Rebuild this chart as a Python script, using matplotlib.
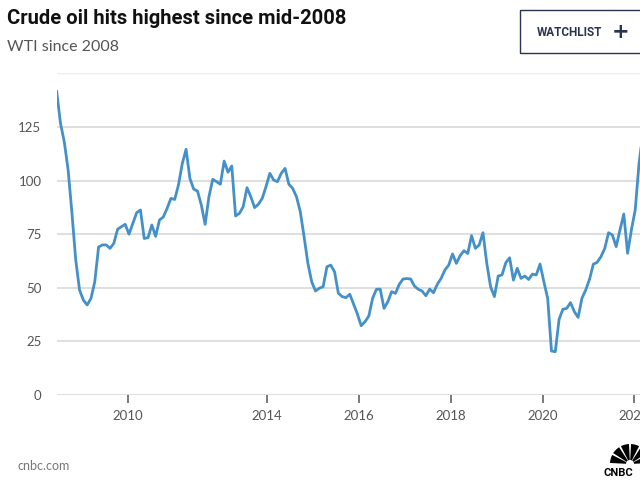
import matplotlib
matplotlib.use("Agg")
import matplotlib.pyplot as plt
from matplotlib.patches import Rectangle, Wedge
import numpy as np

# WTI monthly values, one per point along the x axis
wti = [141.5, 126.7, 118, 105, 85, 63, 49, 44.3, 42, 45, 52.8, 69, 70, 70, 68.4, 70.7,
       77.3, 78.5, 79.6, 75, 80, 85, 86.3, 73, 73.4, 79.3, 74, 81.6, 83, 87, 91.7, 91.2,
       98, 108, 114.6, 101, 96, 95.1, 88.6, 79.6, 92.5, 100.6, 99.5, 98.3, 109.1, 103.9,
       106.8, 83.5, 84.7, 87.8, 96.7, 92.5, 87.4, 89, 91.7, 97.2, 103.4, 100.3, 99.5,
       103.4, 105.7, 98.3, 96.4, 92.5, 85.5, 73.8, 61.4, 52.8, 48.5, 49.8, 50.5, 59.8,
       60.6, 57.5, 47.5, 45.9, 45.4, 47, 42.4, 37.8, 32.3, 34.2, 36.8, 45.1, 49.3, 49.4,
       40.4, 43.5, 48.2, 47.4, 51.6, 54.1, 54.3, 54.1, 50.8, 49.3, 48.5, 46.3, 49.4, 47.7,
       51.6, 54.4, 58.3, 60.6, 65.8, 61.4, 65, 67.3, 66, 74.3, 68.4, 70, 75.7, 61.4, 50.5,
       45.9, 55.5, 56, 61.7, 64, 53.6, 59.1, 54.4, 55.5, 53.9, 56.4, 56, 61.1, 52.8, 45.1,
       20.5, 20.2, 35.3, 40, 40.4, 43.1, 38.9, 36.2, 45.1, 49, 54, 61, 61.9, 64.5, 68.4,
       75.7, 74.6, 69.2, 77, 84.4, 66.1, 77, 86.3, 108, 122]
x_idx = np.arange(len(wti))

xtick_pos = [18.7, 55.2, 79.4, 103.6, 127.8, 151.7]
xtick_labels = ["2010", "2014", "2016", "2018", "2020", "2022"]
ytick_vals = [0, 25, 50, 75, 100, 125]

W, H = 640, 480
fig = plt.figure(figsize=(6.4, 4.8), dpi=100)
fig.patch.set_facecolor("white")

FONT = ["Lato", "DejaVu Sans"]
ax_left, ax_bottom = 56.7 / W, 85 / H
ax_h = 321.6 / H
xmax = 160
ax_w = xmax * 3.806 / W
ax = fig.add_axes([ax_left, ax_bottom, ax_w, ax_h])
ax.set_xlim(0, xmax)
ax.set_ylim(0, 150)
for s in ax.spines.values():
    s.set_visible(False)

grid_c = "#dcdcdc"
for v in ytick_vals:
    ax.axhline(v, color=grid_c, lw=1.3, zorder=1)
ax.axhline(150, color="#ececec", lw=1.0, zorder=1)

ax.plot(x_idx, wti, color="#4490c8", lw=2.0, zorder=3, solid_joinstyle="round")

ax.set_yticks(ytick_vals)
ax.set_yticklabels([str(v) for v in ytick_vals], family=FONT, fontsize=9.5, color="#555555")
ax.tick_params(axis="y", length=0, pad=11)
ax.set_xticks(xtick_pos)
ax.set_xticklabels(xtick_labels, family=FONT, fontsize=9.5, color="#555555")
ax.tick_params(axis="x", length=6, width=1.1, color="#555555", pad=5, direction="out")

# Header
fig.text(7 / W, 1 - 19 / H, "Crude oil hits highest since mid-2008", family=["Roboto", "DejaVu Sans"],
         fontweight="bold", fontsize=14.5, color="#111111", va="center", ha="left")
fig.text(7 / W, 1 - 47 / H, "WTI since 2008", family=FONT, fontsize=11.5, color="#555555",
         va="center", ha="left")

# Watchlist button
fig.patches.append(Rectangle((520 / W, 1 - 53 / H), 140 / W, 43 / H, transform=fig.transFigure,
                             facecolor="white", edgecolor="#2a3350", lw=1.0, figure=fig))
fig.text(537 / W, 1 - 32 / H, "WATCHLIST", family=["Roboto", "DejaVu Sans"], fontweight="bold",
         fontsize=8.5, color="#2a3350", va="center", ha="left")
fig.text(621 / W, 1 - 32 / H, "+", family=["DejaVu Sans"], fontsize=15, fontweight="bold",
         color="#2a3350", va="center", ha="center")

# Footer
fig.text(18 / W, 1 - 466 / H, "cnbc.com", family=FONT, fontsize=9, color="#777777",
         va="center", ha="left")

# CNBC logo (approximation)
lax = fig.add_axes([600 / W, 0, 60 / W, 40 / H])
lax.set_xlim(0, 60)
lax.set_ylim(0, 40)
lax.set_aspect("equal")
lax.axis("off")
cx, cy = 30, 16
angles = np.linspace(0, 180, 7)
for a0, a1 in zip(angles[:-1], angles[1:]):
    lax.add_patch(Wedge((cx, cy), 20, a0 + 3, a1 - 3, facecolor="black", edgecolor="none"))
lax.add_patch(Wedge((cx, cy), 4, 0, 180, facecolor="white", edgecolor="none"))
lax.text(4, 7, "CNBC", fontsize=8, fontweight="bold", family=["Roboto", "DejaVu Sans"],
         color="black", va="center", ha="left")

fig.savefig("out.png", dpi=100, facecolor="white")
